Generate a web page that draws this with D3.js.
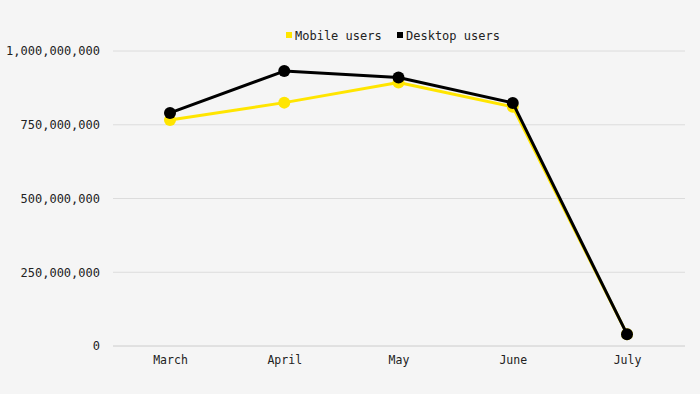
<!DOCTYPE html>
<html><head><meta charset="utf-8">
<script src="https://cdn.jsdelivr.net/npm/d3@7"></script>
<style>
html,body{margin:0;padding:0;background:#f5f5f5;}
svg{display:block;}
text{font-family:"DejaVu Sans Mono",monospace;fill:#222;}
</style></head>
<body>
<svg id="chart" width="700" height="394"></svg>
<script>
const months = ["March","April","May","June","July"];
const mobileUsers = [766000000, 825000000, 893000000, 811000000, 40000000];
const desktopUsers = [790000000, 932000000, 910000000, 824000000, 40000000];
const yTicks = [0, 250000000, 500000000, 750000000, 1000000000];
const seriesNames = ["Mobile users","Desktop users"];
const seriesColors = ["#ffe500","#000000"];

const svg = d3.select("#chart");
svg.append("rect").attr("width",700).attr("height",394).attr("fill","#f5f5f5");

const x = d3.scalePoint().domain(months).range([170, 627]);
const y = d3.scaleLinear().domain([0, 1000000000]).range([346, 51]);

// gridlines
const gridG = svg.append("g");
gridG.selectAll("line").data(yTicks).join("line")
  .attr("x1",113).attr("x2",685)
  .attr("y1",d=>y(d)).attr("y2",d=>y(d))
  .attr("stroke",d=>d===0?"#cccccc":"#dcdcdc").attr("stroke-width",1);

// y axis labels
const yAxis = d3.axisLeft(y).tickValues(yTicks).tickSize(0).tickPadding(0)
  .tickFormat(d3.format(","));
const yg = svg.append("g").attr("transform","translate(100,0)").call(yAxis);
yg.select(".domain").remove();
yg.selectAll("text").attr("font-size",12).attr("font-family","DejaVu Sans Mono, monospace").attr("fill","#222");

// x axis labels
const xAxis = d3.axisBottom(x).tickSize(0).tickPadding(0);
const xg = svg.append("g").attr("transform","translate(0,356)").call(xAxis);
xg.select(".domain").remove();
xg.selectAll("text").attr("font-size",11.5).attr("font-family","DejaVu Sans Mono, monospace").attr("fill","#222");

const series = [
  {name: seriesNames[0], values: mobileUsers, color: seriesColors[0]},
  {name: seriesNames[1], values: desktopUsers, color: seriesColors[1]}
];
const line = d3.line().x((d,i)=>x(months[i])).y(d=>y(d));

series.forEach(s=>{
  const g = svg.append("g");
  g.append("path").datum(s.values).attr("d",line)
    .attr("fill","none").attr("stroke",s.color).attr("stroke-width",3)
    .attr("stroke-linejoin","round");
  g.selectAll("circle").data(s.values).join("circle")
    .attr("cx",(d,i)=>x(months[i])).attr("cy",d=>y(d)).attr("r",6)
    .attr("fill",s.color);
});

// legend
const legendX = [286, 397];
const lg = svg.append("g");
series.forEach((s,i)=>{
  lg.append("rect").attr("x",legendX[i]).attr("y",32).attr("width",6).attr("height",6).attr("fill",s.color);
  lg.append("text").attr("x",legendX[i]+9).attr("y",39.5).attr("font-size",12).text(s.name);
});
</script>
</body></html>
